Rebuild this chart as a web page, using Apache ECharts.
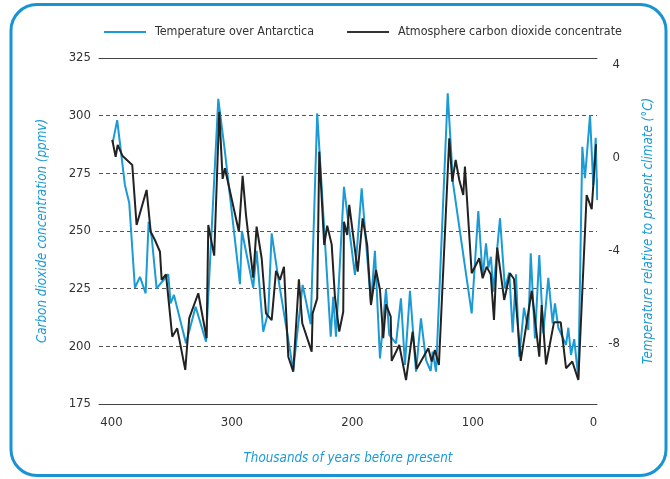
<!DOCTYPE html>
<html><head><meta charset="utf-8">
<script src="https://cdn.jsdelivr.net/npm/echarts@6/dist/echarts.min.js"></script>
<style>html,body{margin:0;padding:0;background:#fff}#c{width:670px;height:479px}</style>
</head><body><div id="c"></div>
<script>
// Temperature over Antarctica (°C relative to present), by thousands of years before present
const tempYears = [399.0,395.2,388.8,385.2,380.5,376.3,371.6,369.1,366.6,362.5,
  352.8,350.9,348.1,338.1,330.1,321.5,311.3,305.8,293.3,291.7,
  282.3,279.5,274.0,269.8,267.0,261.5,249.1,241.3,234.6,229.2,
  218.0,215.9,213.6,207.0,197.9,192.3,184.6,181.3,177.1,172.1,
  169.4,163.8,159.7,156.4,152.2,147.2,143.1,138.9,135.0,133.4,
  130.6,120.9,116.5,101.0,95.5,91.9,89.1,87.2,85.0,83.1,
  77.5,73.4,69.8,67.0,64.2,61.5,57.6,54.0,52.0,48.5,
  44.9,41.6,37.4,33.8,31.9,29.1,22.7,20.8,18.6,15.9,
  12.5,9.2,7.0,2.8,0.1,-1.9,-3.2,-6.9];
const tempValues = [0.64,1.63,-1.16,-1.94,-5.58,-5.11,-5.82,-2.74,-3.39,-5.61,
  -5.00,-6.25,-5.89,-7.97,-6.40,-7.90,2.54,0.27,-5.43,-3.14,
  -5.58,-3.99,-7.47,-6.61,-3.24,-5.18,-9.12,-5.46,-7.15,1.92,
  -7.69,-5.97,-7.69,-1.24,-5.03,-1.30,-6.25,-3.99,-8.62,-5.64,
  -7.61,-7.97,-6.04,-8.90,-5.71,-9.19,-6.90,-8.69,-9.16,-8.33,
  -9.19,2.78,-1.08,-6.68,-2.28,-5.11,-3.67,-4.72,-4.25,-5.75,
  -2.59,-5.61,-4.93,-7.50,-5.00,-8.55,-6.44,-7.40,-4.10,-7.76,
  -4.17,-7.54,-5.15,-7.11,-6.25,-7.30,-8.04,-7.30,-8.47,-7.79,
  -9.48,0.48,-0.87,1.82,-1.16,0.87,-1.81,0.67];
// Atmospheric CO2 (ppmv)
const co2Years = [399.3,396.5,394.8,390.7,382.7,379.1,370.8,367.4,363.9,359.7,
  358.3,354.7,349.5,345.4,338.7,335.4,327.9,321.0,319.6,314.7,
  310.5,307.7,305.8,294.2,291.1,288.3,282.3,279.5,275.3,271.7,
  267.0,263.4,260.1,256.8,253.2,249.1,244.4,241.6,233.8,233.0,
  229.2,227.5,223.4,220.9,217.2,214.5,210.9,207.6,207.0,204.3,
  202.6,195.6,191.5,187.7,184.6,180.4,177.1,174.4,172.1,168.2,
  167.4,161.1,155.5,150.0,146.7,137.0,134.2,131.5,128.2,119.6,
  117.1,114.3,111.3,108.0,106.6,101.0,94.7,91.9,88.6,85.2,
  82.5,79.8,74.0,69.2,65.9,60.3,51.2,44.9,42.9,39.3,
  32.7,27.1,22.7,17.5,12.5,5.6,1.4,-2.2];
const co2Values = [289.5,282.2,287.3,282.5,278.6,252.6,267.8,249.7,246.1,241.0,
  228.8,231.2,204.2,207.8,189.8,212.2,223.0,203.5,252.6,239.3,
  301.7,272.6,277.2,249.7,273.9,256.9,229.8,251.9,238.2,214.3,
  211.4,232.7,228.8,234.5,195.5,189.0,229.1,210.0,197.7,214.3,
  220.8,284.4,243.9,252.3,244.2,221.5,206.4,215.0,254.0,248.3,
  261.3,232.4,255.5,243.9,217.9,233.1,224.4,203.5,218.2,212.9,
  193.7,200.6,185.4,206.4,190.2,199.2,193.4,198.4,191.9,290.2,
  271.4,280.8,272.1,265.6,277.9,231.7,238.2,229.5,234.5,231.2,
  211.4,242.8,220.1,231.7,229.2,193.7,224.0,195.5,217.9,192.2,
  210.4,210.4,190.5,193.4,185.4,265.6,259.5,287.6];
const xTicks = [400,300,200,100,0];
const rightTicks = [4,0,-4,-8];

const FONT = "'Liberation Sans Narrow','Arial Narrow','DejaVu Sans Condensed','Liberation Sans',sans-serif";
const BLUE = '#1b9ad6';
const xMin = -3, xMax = 410.3;
const labelStyle = {fontFamily: FONT, fontSize: 13, color: '#333'};
const nameStyle = {fontFamily: FONT, fontSize: 13.3, fontStyle: 'italic', color: BLUE};

const chart = echarts.init(document.getElementById('c'));
chart.setOption({
  animation: false,
  graphic: [{type: 'rect', shape: {x: 11, y: 4.5, width: 655, height: 471, r: 26},
    style: {fill: 'none', stroke: '#1a93d3', lineWidth: 3}, z: -1}],
  legend: {
    left: 99, top: 21, itemWidth: 42, itemHeight: 2, itemGap: 33, icon: 'rect',
    width: 560,
    textStyle: {fontFamily: FONT, fontSize: 12.4, color: '#333', padding: [0, 0, 0, 4]},
    data: [
      {name: 'Temperature over Antarctica', itemStyle: {color: BLUE}},
      {name: 'Atmosphere carbon dioxide concentrate', itemStyle: {color: '#333'}}
    ]
  },
  grid: {left: 99, right: 73, top: 58, bottom: 75},
  xAxis: [{
    type: 'value', inverse: true, min: xMin, max: xMax,
    axisLine: {show: true, onZero: false, lineStyle: {color: '#444', width: 1}},
    axisTick: {show: false}, splitLine: {show: false},
    axisLabel: Object.assign({customValues: xTicks, margin: 12}, labelStyle),
    name: 'Thousands of years before present', nameLocation: 'middle', nameGap: 48,
    nameTextStyle: nameStyle
  }, {
    type: 'value', inverse: true, position: 'top', min: xMin, max: xMax,
    axisLine: {show: true, onZero: false, lineStyle: {color: '#444', width: 1}},
    axisTick: {show: false}, axisLabel: {show: false}, splitLine: {show: false}
  }],
  yAxis: [{
    type: 'value', min: 175, max: 325, interval: 25, position: 'left',
    axisLine: {show: false}, axisTick: {show: false},
    splitLine: {show: true, lineStyle: {type: [4, 3], color: '#555', width: 1}},
    axisLabel: Object.assign({margin: 8}, labelStyle),
    name: 'Carbon dioxide concentration (ppmv)', nameLocation: 'middle', nameGap: 50, nameRotate: 90,
    nameTextStyle: nameStyle
  }, {
    type: 'value', min: -10.58, max: 4.30, position: 'right',
    axisLine: {show: false}, axisTick: {show: false}, splitLine: {show: false},
    axisLabel: Object.assign({customValues: rightTicks, align: 'right', margin: 23}, labelStyle),
    name: 'Temperature relative to present climate (°C)', nameLocation: 'middle', nameGap: 45, nameRotate: 90,
    nameTextStyle: nameStyle
  }],
  series: [{
    type: 'line', name: 'Temperature over Antarctica', xAxisIndex: 0, yAxisIndex: 1,
    data: tempYears.map((x, i) => [x, tempValues[i]]),
    symbol: 'none', clip: false,
    lineStyle: {color: BLUE, width: 2}, itemStyle: {color: BLUE}
  }, {
    type: 'line', name: 'Atmosphere carbon dioxide concentrate', xAxisIndex: 0, yAxisIndex: 0,
    data: co2Years.map((x, i) => [x, co2Values[i]]),
    symbol: 'none', clip: false,
    lineStyle: {color: '#222', width: 2}, itemStyle: {color: '#222'}
  }]
});
</script></body></html>
